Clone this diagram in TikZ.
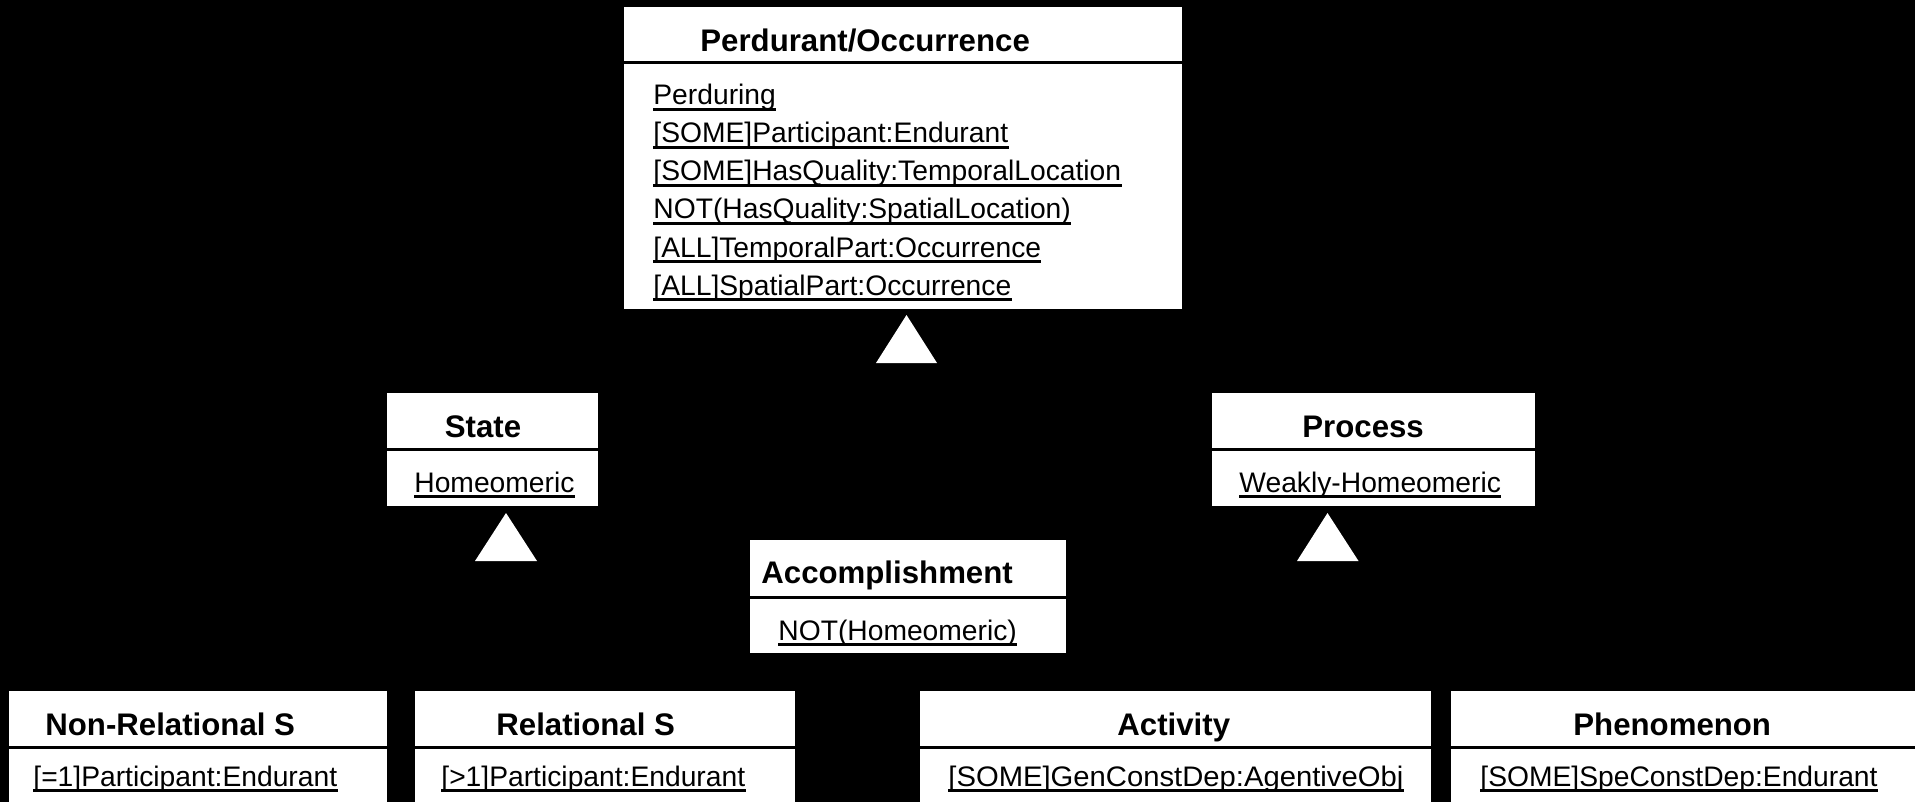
\documentclass[tikz,border=0pt]{standalone}
\usepackage{fontspec}
\usepackage{graphicx}
\setmainfont{Liberation Sans}
\usetikzlibrary{fit}
\newcommand\attrline[4]{%
  \node[attr] (#1) at (#2,#3) {#4};
  \draw[uline] ([yshift=-2.3pt]#1.base west) -- ([yshift=-2.3pt]#1.base east);}
\begin{document}
\begin{tikzpicture}[x=0.5pt,y=-0.5pt,
  classbox/.style={fill=white, draw=none, inner sep=0pt, outer sep=0pt},
  divider/.style={draw=black, line width=1.5pt},
  ttl/.style={anchor=base west, inner sep=0pt, font=\fontsize{15.6}{18}\selectfont\bfseries},
  attr/.style={anchor=base west, inner sep=0pt, font=\fontsize{14.12}{17}\selectfont},
  uline/.style={draw=black, line width=1.5pt},
  gentri/.style={fill=white, draw=none}]
\useasboundingbox (0,0) rectangle (1915,802);
\fill[black] (0,0) rectangle (1915,802);

% Perdurant / Occurrence
\node[classbox, fit={(624,7) (1182,309)}] (perd) {};
\draw[divider] (624,63) -- (1182,63);
\node[ttl] (perdT) at (700,52) {Perdurant/Occurrence};
\attrline{p1}{653}{105}{Perduring}
\attrline{p2}{653}{143}{[SOME]Participant:Endurant}
\attrline{p3}{653}{181}{[SOME]HasQuality:TemporalLocation}
\attrline{p4}{653}{219}{NOT(HasQuality:SpatialLocation)}
\attrline{p5}{653}{257}{[ALL]TemporalPart:Occurrence}
\attrline{p6}{653}{295}{[ALL]SpatialPart:Occurrence}
\fill[gentri] (906.5,315) -- (876,363) -- (937,363) -- cycle;

% State
\node[classbox, fit={(387,393) (598,506)}] (state) {};
\draw[divider] (387,449) -- (598,449);
\node[ttl] (stateT) at (444.5,437) {State};
\attrline{s1}{414}{492}{Homeomeric}
\fill[gentri] (506,513) -- (475,561) -- (537,561) -- cycle;

% Process
\node[classbox, fit={(1212,393) (1535,506)}] (proc) {};
\draw[divider] (1212,449) -- (1535,449);
\node[ttl] (procT) at (1302,437) {Process};
\attrline{r1}{1239}{492}{Weakly-Homeomeric}
\fill[gentri] (1327.5,513) -- (1297,561) -- (1358.5,561) -- cycle;

% Accomplishment
\node[classbox, fit={(750,540) (1066,653)}] (acc) {};
\draw[divider] (750,597) -- (1066,597);
\node[ttl] (accT) at (761,583) {Accomplishment};
\attrline{a1}{778}{640}{NOT(Homeomeric)}

% bottom row
\node[classbox, fit={(9,691) (387,802)}] (nrel) {};
\draw[divider] (9,747) -- (387,747);
\node[ttl] (nrelT) at (45,735) {Non-Relational S};
\attrline{n1}{33}{786}{[=1]Participant:Endurant}

\node[classbox, fit={(415,691) (795,802)}] (rel) {};
\draw[divider] (415,747) -- (795,747);
\node[ttl] (relT) at (496,735) {Relational S};
\attrline{e1}{441}{786}{[>1]Participant:Endurant}

\node[classbox, fit={(920,691) (1431,802)}] (act) {};
\draw[divider] (920,747) -- (1431,747);
\node[ttl] (actT) at (1117,735) {Activity};
\attrline{c1}{948}{786}{\scalebox{1.035}[1]{[SOME]GenConstDep:AgentiveObj}}

\node[classbox, fit={(1451,691) (1915,802)}] (phen) {};
\draw[divider] (1451,747) -- (1915,747);
\node[ttl] (phenT) at (1573,735) {Phenomenon};
\attrline{h1}{1480}{786}{[SOME]SpeConstDep:Endurant}
\end{tikzpicture}
\end{document}
